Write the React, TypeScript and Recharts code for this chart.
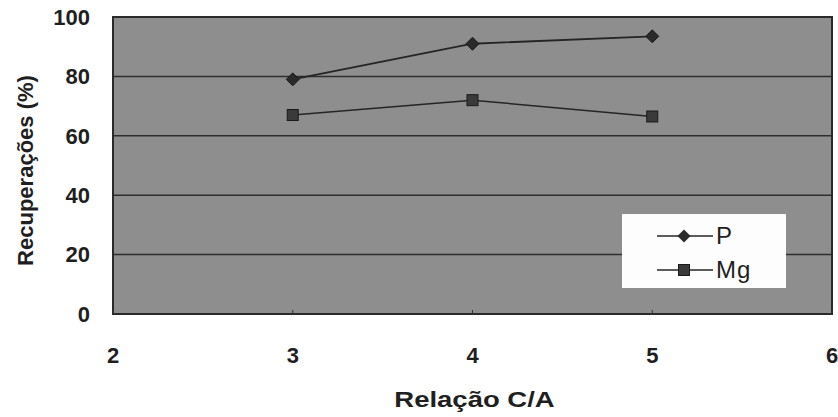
import React from 'react';
import { LineChart, Line, XAxis, YAxis, CartesianGrid, Legend, ReferenceArea } from 'recharts';

const ratios = [3, 4, 5];
const pValues = [79, 91, 93.5];
const mgValues = [67, 72, 66.5];
const xTicks = [2, 3, 4, 5, 6];
const yTicks = [0, 20, 40, 60, 80, 100];
const seriesNames = ['P', 'Mg'];

const data = ratios.map((r, i) => ({ x: r, P: pValues[i], Mg: mgValues[i] }));

const FONT = '"Liberation Sans", Arial, sans-serif';
const INK = '#1f1f1f';
const LINE = '#252525';

const Diamond = (props: any) => {
  const { cx, cy } = props;
  if (cx == null || cy == null) return null;
  const s = 6.5;
  return <polygon points={`${cx},${cy - s} ${cx + s},${cy} ${cx},${cy + s} ${cx - s},${cy}`} fill="#2a2a2a" stroke="#1a1a1a" strokeWidth={1} />;
};

const Square = (props: any) => {
  const { cx, cy } = props;
  if (cx == null || cy == null) return null;
  const s = 5.5;
  return <rect x={cx - s} y={cy - s} width={2 * s} height={2 * s} fill="#3a3a3a" stroke="#1a1a1a" strokeWidth={1} />;
};

const X_TICK_MARGIN = 41;
const XTick = (props: any) => {
  const { x, y, payload } = props;
  const axisY = y - X_TICK_MARGIN;
  return (
    <g>
      <line x1={x} x2={x} y1={axisY} y2={axisY - 4} stroke="#333" strokeWidth={1} />
      <text x={x} y={y} dy="0.355em" textAnchor="middle" fill={INK} fontFamily={FONT} fontSize={22} fontWeight="bold">
        {payload.value}
      </text>
    </g>
  );
};

const LegendBox = () => {
  const rows = [
    { name: seriesNames[0], shape: 'diamond', top: 22 },
    { name: seriesNames[1], shape: 'square', top: 56 },
  ];
  return (
    <div style={{ width: 164, height: 74, background: '#fdfdfd', position: 'relative', fontFamily: FONT, fontSize: 24, color: INK }}>
      {rows.map((r) => (
        <div key={r.name} style={{ position: 'absolute', left: 35, top: r.top - 14, height: 28, display: 'flex', alignItems: 'center' }}>
          <svg width={59} height={28} style={{ display: 'block' }}>
            <line x1={0} x2={56} y1={14} y2={14} stroke={LINE} strokeWidth={1.5} />
            {r.shape === 'diamond' ? (
              <polygon points="27,7.5 33.5,14 27,20.5 20.5,14" fill="#2a2a2a" />
            ) : (
              <rect x={21.5} y={8.5} width={11} height={11} fill="#3a3a3a" stroke="#1a1a1a" />
            )}
          </svg>
          <span style={{ lineHeight: '28px', letterSpacing: 1 }}>{r.name}</span>
        </div>
      ))}
    </div>
  );
};

export default function App() {
  return (
    <div style={{ position: 'absolute', left: 0, top: 0, background: '#fff' }}>
      <LineChart width={838} height={417} data={data} margin={{ top: 17, right: 6, bottom: 0, left: 0 }}>
        <CartesianGrid vertical={false} fill="#8e8e8e" fillOpacity={1} stroke="#2e2e2e" strokeWidth={1.5} />
        <ReferenceArea x1={2} x2={6} y1={0} y2={100} fill="none" stroke="#2a2a2a" strokeWidth={2} ifOverflow="visible" />
        <XAxis
          dataKey="x"
          type="number"
          domain={[2, 6]}
          ticks={xTicks}
          height={103}
          axisLine={false}
          tickLine={false}
          tickSize={0}
          tickMargin={X_TICK_MARGIN}
          tick={<XTick />}
          interval={0}
          label={{
            content: (p: any) => {
              const vb = p.viewBox;
              const cx = vb.x + vb.width / 2 + 2;
              return (
                <text x={0} y={0} dy="0.355em" transform={`translate(${cx}, 399) scale(1.25, 1)`} textAnchor="middle" fill={INK} fontFamily={FONT} fontSize={22} fontWeight="bold">
                  Relação C/A
                </text>
              );
            },
          }}
        />
        <YAxis
          type="number"
          domain={[0, 100]}
          ticks={yTicks}
          width={113}
          axisLine={false}
          tickLine={false}
          tickSize={0}
          tickMargin={23}
          interval={0}
          tick={{ fill: INK, fontFamily: FONT, fontSize: 22, fontWeight: 'bold' }}
          label={{
            content: (p: any) => {
              const vb = p.viewBox;
              const cx = 25;
              const cy = vb.y + vb.height / 2 + 5;
              return (
                <text x={cx} y={cy} dy="0.355em" transform={`rotate(-90, ${cx}, ${cy})`} textAnchor="middle" fill={INK} fontFamily={FONT} fontSize={22} fontWeight="bold">
                  Recuperações (%)
                </text>
              );
            },
          }}
        />
        <Line dataKey="P" name={seriesNames[0]} stroke={LINE} strokeWidth={1.8} dot={<Diamond />} isAnimationActive={false} />
        <Line dataKey="Mg" name={seriesNames[1]} stroke={LINE} strokeWidth={1.5} dot={<Square />} isAnimationActive={false} />
        <Legend
          layout="horizontal"
          verticalAlign="middle"
          align="center"
          content={<LegendBox />}
          wrapperStyle={{ left: 622, top: 214, width: 164, height: 74 }}
        />
      </LineChart>
    </div>
  );
}
